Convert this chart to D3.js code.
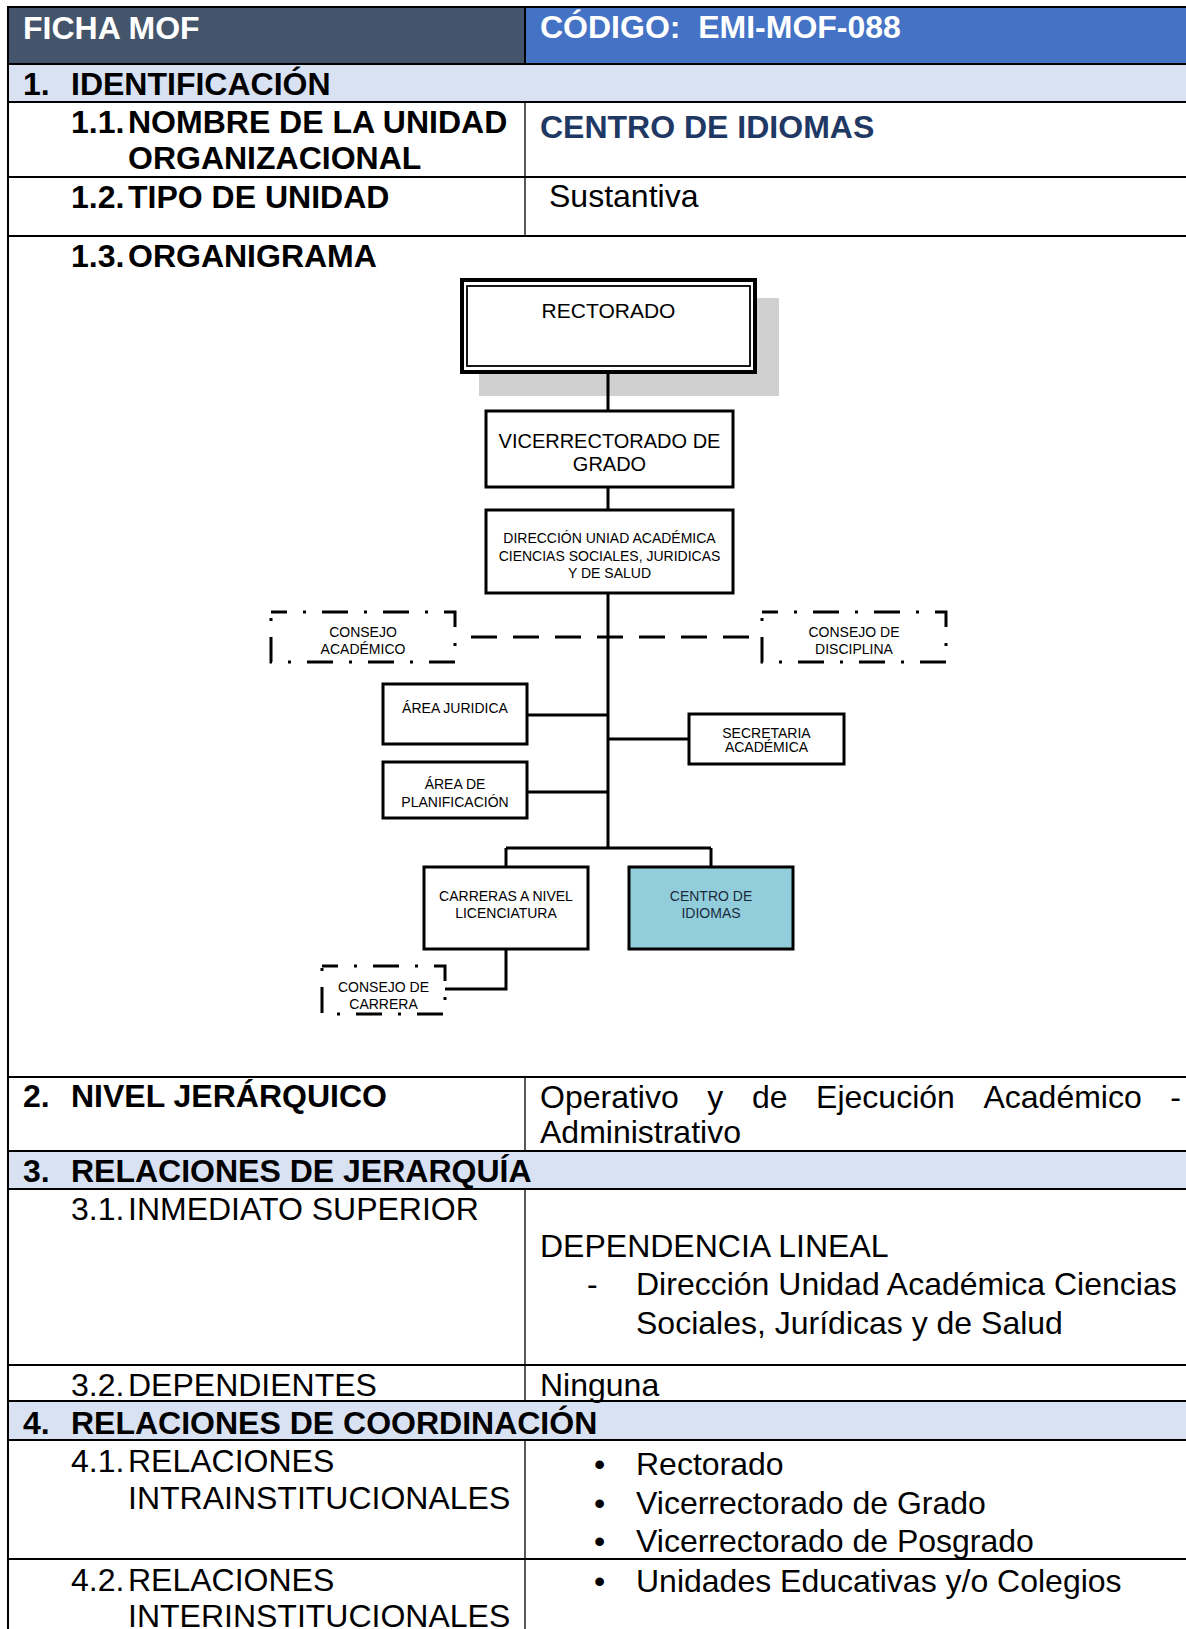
<!DOCTYPE html>
<html><head><meta charset="utf-8">
<script src="https://cdn.jsdelivr.net/npm/d3@7"></script>
<style>
body{margin:0;background:#fff;}
svg{display:block;}
text{white-space:pre;}
</style>
</head><body>
<svg id="c" width="1186" height="1629"></svg>
<script>
// ---------------- CONTENT ----------------
const headerTexts = ["FICHA MOF", "CÓDIGO:  EMI-MOF-088"];
const sectionNums = ["1.", "2.", "3.", "4."];
const sectionTitles = ["IDENTIFICACIÓN", "NIVEL JERÁRQUICO", "RELACIONES DE JERARQUÍA", "RELACIONES DE COORDINACIÓN"];
const subNums = ["1.1.", "1.2.", "1.3.", "3.1.", "3.2.", "4.1.", "4.2."];
const subTitles = [["NOMBRE DE LA UNIDAD", "ORGANIZACIONAL"], ["TIPO DE UNIDAD"], ["ORGANIGRAMA"],
  ["INMEDIATO SUPERIOR"], ["DEPENDIENTES"], ["RELACIONES", "INTRAINSTITUCIONALES"], ["RELACIONES", "INTERINSTITUCIONALES"]];
const subBold = [true, true, true, false, false, false, false];
const unitName = "CENTRO DE IDIOMAS";
const unitType = "Sustantiva";
const levelWords = ["Operativo", "y", "de", "Ejecución", "Académico", "-"];
const levelRest = "Administrativo";
const superiorHead = "DEPENDENCIA LINEAL";
const superiorItem = ["Dirección Unidad Académica Ciencias", "Sociales, Jurídicas y de Salud"];
const dependents = "Ninguna";
const intraRelations = ["Rectorado", "Vicerrectorado de Grado", "Vicerrectorado de Posgrado"];
const interRelations = ["Unidades Educativas y/o Colegios"];

// org chart units
const orgIds = ["rect", "vice", "dir", "cacad", "cdisc", "ajur", "aplan", "secr", "carr", "cidi", "ccarr"];
const orgLabels = [["RECTORADO"], ["VICERRECTORADO DE", "GRADO"],
  ["DIRECCIÓN UNIAD ACADÉMICA", "CIENCIAS SOCIALES, JURIDICAS", "Y DE SALUD"],
  ["CONSEJO", "ACADÉMICO"], ["CONSEJO DE", "DISCIPLINA"], ["ÁREA JURIDICA"], ["ÁREA DE", "PLANIFICACIÓN"],
  ["SECRETARIA", "ACADÉMICA"], ["CARRERAS A NIVEL", "LICENCIATURA"], ["CENTRO DE", "IDIOMAS"], ["CONSEJO DE", "CARRERA"]];
const orgKinds = ["top", "unit", "unit", "council", "council", "unit", "unit", "unit", "unit", "self", "council"];

// ---------------- LAYOUT ----------------
const F = "'Liberation Sans', Arial, Helvetica, sans-serif";
const L = {left: 8, right: 1200, div: 525, numX: 23, secX: 71, subX: 128, valX: 540,
  rows: [7, 64, 102, 177, 236, 1077, 1151, 1189, 1365, 1401, 1440, 1559, 1700],
  bands: [[64, 102], [1151, 1189], [1401, 1440]],
  divSegs: [[102, 236], [1077, 1151], [1189, 1401], [1440, 1700]]};
const sectionBase = [95, 1107, 1182, 1434];
const subBase = [[133, 169], [208], [267], [1220], [1396], [1472, 1509], [1591, 1627]];

const box = {
  rect: [460, 278, 757, 374], vice: [486, 411, 733, 487], dir: [486, 510, 733, 593],
  cacad: [271, 612, 455, 662], cdisc: [762, 612, 946, 662], ajur: [383, 684, 527, 744],
  aplan: [383, 762, 527, 818], secr: [689, 714, 844, 764], carr: [424, 867, 588, 949],
  cidi: [629, 867, 793, 949], ccarr: [322, 966, 445, 1014]};
const txt = { // font size, first baseline offset, line height
  rect: [21, 40, 20], vice: [20, 37, 23], dir: [14, 33, 17.5], cacad: [14, 25, 17], cdisc: [14, 25, 17],
  ajur: [14, 29, 17], aplan: [14, 27, 18], secr: [14, 24, 14], carr: [14, 34, 17], cidi: [14, 34, 17], ccarr: [14, 26, 17]};
const spineX = 608, branchY = 848;
const solidLinks = [
  [[spineX, 374], [spineX, branchY]],
  [[527, 715], [spineX, 715]],
  [[527, 792], [spineX, 792]],
  [[spineX, 739], [689, 739]],
  [[506, branchY], [711, branchY]],
  [[506, branchY], [506, 867]],
  [[711, branchY], [711, 867]],
  [[506, 949], [506, 989], [445, 989]]];
const dashedLinks = [[[455, 637], [762, 637]]];

// ---------------- DRAW ----------------
const svg = d3.select("#c");
const g = svg.append("g");

// header fills
g.append("rect").attr("x", L.left).attr("y", L.rows[0]).attr("width", L.div - L.left).attr("height", L.rows[1] - L.rows[0]).attr("fill", "#44546A");
g.append("rect").attr("x", L.div).attr("y", L.rows[0]).attr("width", L.right - L.div).attr("height", L.rows[1] - L.rows[0]).attr("fill", "#4472C4");
L.bands.forEach(b => g.append("rect").attr("x", L.left).attr("y", b[0]).attr("width", L.right - L.left).attr("height", b[1] - b[0]).attr("fill", "#D9E2F3"));

// grid lines
L.rows.slice(0, -1).forEach(y => g.append("line").attr("x1", L.left - 1).attr("x2", L.right).attr("y1", y).attr("y2", y).attr("stroke", "#000").attr("stroke-width", 2));
g.append("line").attr("x1", L.left).attr("x2", L.left).attr("y1", L.rows[0]).attr("y2", 1640).attr("stroke", "#000").attr("stroke-width", 2);
g.append("line").attr("x1", L.div).attr("x2", L.div).attr("y1", L.rows[0]).attr("y2", L.rows[1]).attr("stroke", "#000").attr("stroke-width", 2);
L.divSegs.forEach(s => g.append("line").attr("x1", L.div).attr("x2", L.div).attr("y1", s[0]).attr("y2", s[1]).attr("stroke", "#000").attr("stroke-width", 1.3));

function T(x, y, s, opt = {}) {
  return g.append("text").attr("x", x).attr("y", y).text(s)
    .attr("font-family", F).attr("font-size", opt.size || 32)
    .attr("font-weight", opt.bold ? "bold" : "normal")
    .attr("fill", opt.fill || "#000")
    .attr("text-anchor", opt.anchor || "start");
}

// header texts
T(L.numX, 39, headerTexts[0], {bold: true, fill: "#fff"});
T(L.valX, 38, headerTexts[1], {bold: true, fill: "#fff"});

// section titles
sectionNums.forEach((n, i) => {
  T(L.numX, sectionBase[i], n, {bold: true});
  T(L.secX, sectionBase[i], sectionTitles[i], {bold: true});
});
// subsections
subNums.forEach((n, i) => {
  T(L.secX, subBase[i][0], n, {bold: subBold[i]});
  subTitles[i].forEach((s, j) => T(L.subX, subBase[i][j], s, {bold: subBold[i]}));
});

// values
T(L.valX, 138, unitName, {bold: true, fill: "#1F3864"});
T(549, 207, unitType);

// justified line
(function () {
  const x0 = L.valX, x1 = 1181, y = 1108;
  const nodes = levelWords.map(w => T(0, y, w));
  const widths = nodes.map(n => n.node().getComputedTextLength());
  const gap = (x1 - x0 - d3.sum(widths)) / (levelWords.length - 1);
  let x = x0;
  nodes.forEach((n, i) => { n.attr("x", x); x += widths[i] + gap; });
})();
T(L.valX, 1143, levelRest);

T(L.valX, 1257, superiorHead);
T(587, 1295, "-");
superiorItem.forEach((s, i) => T(636, 1295 + i * 39, s));
T(L.valX, 1396, dependents);
intraRelations.forEach((s, i) => { T(594, 1475 + i * 38.5, "•"); T(636, 1475 + i * 38.5, s); });
interRelations.forEach((s, i) => { T(594, 1592 + i * 38.5, "•"); T(636, 1592 + i * 38.5, s); });

// ---------------- ORG CHART ----------------
const og = svg.append("g");
// shadow of top box
og.append("rect").attr("x", 479).attr("y", 298).attr("width", 300).attr("height", 98).attr("fill", "#D0D0D0");

const line = d3.line();
solidLinks.forEach(p => og.append("path").attr("d", line(p)).attr("fill", "none").attr("stroke", "#000").attr("stroke-width", 3));
dashedLinks.forEach(p => og.append("path").attr("d", line(p)).attr("fill", "none").attr("stroke", "#000").attr("stroke-width", 3.2).attr("stroke-dasharray", "26,16").attr("stroke-dashoffset", -16));

orgIds.forEach((id, i) => {
  const [x0, y0, x1, y1] = box[id];
  const kind = orgKinds[i];
  if (kind === "top") {
    og.append("rect").attr("x", x0 + 2).attr("y", y0 + 2).attr("width", x1 - x0 - 4).attr("height", y1 - y0 - 4)
      .attr("fill", "#fff").attr("stroke", "#000").attr("stroke-width", 4);
    og.append("rect").attr("x", x0 + 7).attr("y", y0 + 8).attr("width", x1 - x0 - 14).attr("height", y1 - y0 - 16)
      .attr("fill", "none").attr("stroke", "#000").attr("stroke-width", 1.8);
  } else if (kind === "council") {
    og.append("rect").attr("x", x0).attr("y", y0).attr("width", x1 - x0).attr("height", y1 - y0)
      .attr("fill", "#fff").attr("stroke", "#000").attr("stroke-width", 3)
      .attr("stroke-dasharray", "26,16,3,16").attr("stroke-dashoffset", 10);
  } else {
    og.append("rect").attr("x", x0).attr("y", y0).attr("width", x1 - x0).attr("height", y1 - y0)
      .attr("fill", kind === "self" ? "#92CDDC" : "#fff").attr("stroke", "#000").attr("stroke-width", 3);
  }
  const [fs, off, lh] = txt[id];
  orgLabels[i].forEach((s, j) => {
    og.append("text").attr("x", (x0 + x1) / 2).attr("y", y0 + off + j * lh).text(s)
      .attr("font-family", F).attr("font-size", fs).attr("text-anchor", "middle")
      .attr("fill", kind === "self" ? "#1B2A3A" : "#000");
  });
});
</script>
</body></html>
